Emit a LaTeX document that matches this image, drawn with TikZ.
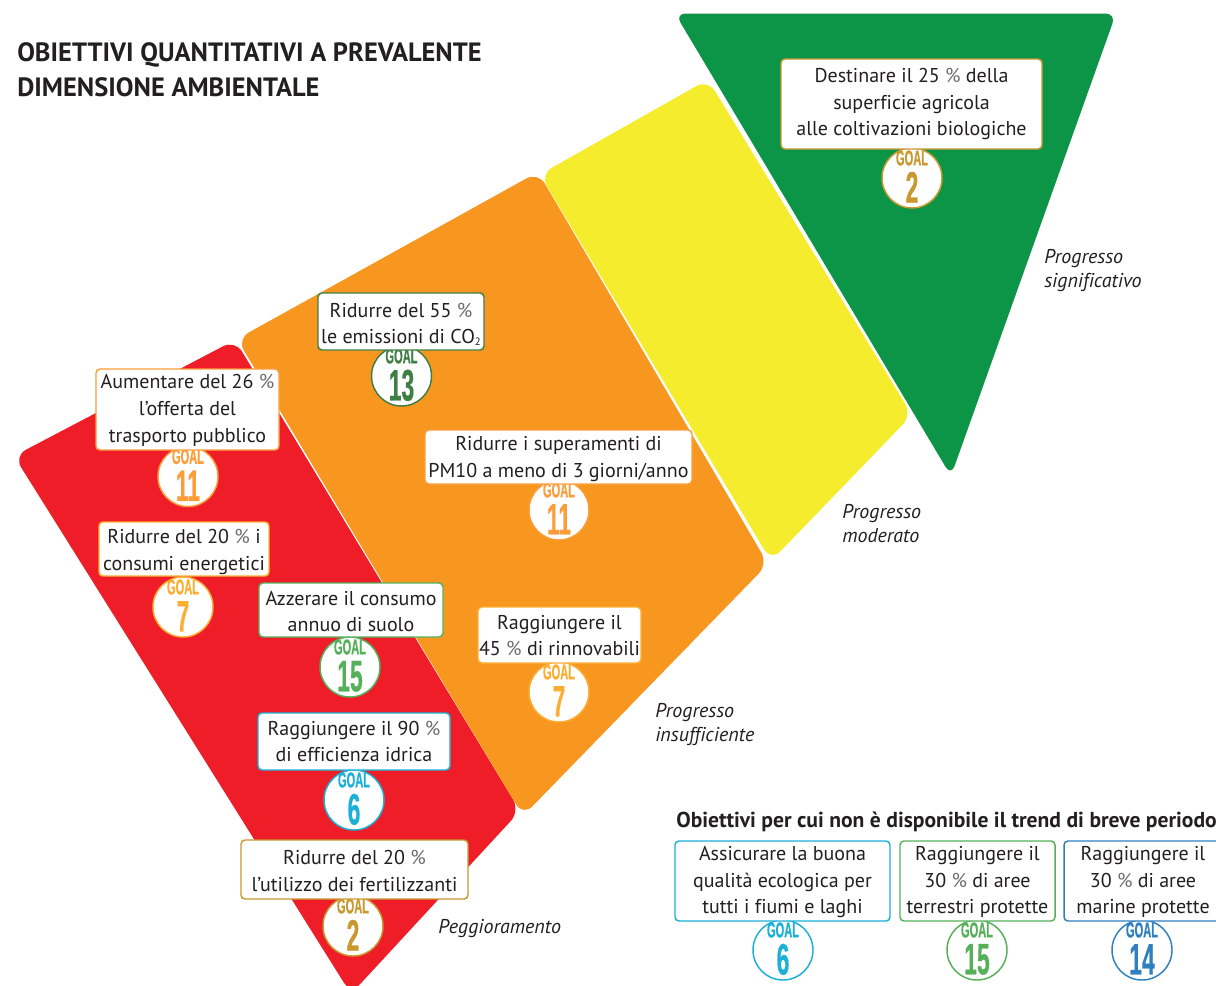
\documentclass[tikz,border=0pt]{standalone}
\usepackage{fontspec}
\setmainfont[Ligatures=NoCommon]{PT Sans}
\newfontfamily\goalfont[BoldFont={Liberation Sans Bold},BoldFeatures={FakeBold=0.8}]{Liberation Sans}
\definecolor{cGreen}{HTML}{0C9547}
\definecolor{cYellow}{HTML}{F6EC2E}
\definecolor{cOrange}{HTML}{F7971F}
\definecolor{cRed}{HTML}{EE1D27}
\definecolor{cInk}{HTML}{231F20}
\definecolor{gGold}{HTML}{C9982F}
\definecolor{gDark}{HTML}{3F7E44}
\definecolor{gOrange}{HTML}{FD9D3A}
\definecolor{gAmber}{HTML}{FCAE33}
\definecolor{gLime}{HTML}{56B05A}
\definecolor{gCyan}{HTML}{1BB0D8}
\definecolor{gBlue}{HTML}{2F80BF}
\newcommand{\pc}{{\color{cInk!65}\%}}
\tikzset{
  band/.style={fill=#1,rounded corners=10pt,draw=none},
  goalbox/.style={draw=#1,fill=white,line width=1.1pt,rounded corners=3pt,inner sep=0pt,anchor=center},
  boxtext/.style={inner sep=0pt,align=center,text=cInk,font=\fontsize{15}{20}\selectfont},
  goaldisc/.style={circle,draw=#1,fill=white,line width=1.1pt,minimum size=45pt,inner sep=0pt},
  goalword/.style={text=#1,inner sep=0pt,font=\goalfont\bfseries\fontsize{16}{17}\selectfont},
  goalnum/.style={text=#1,inner sep=0pt,font=\goalfont\bfseries\fontsize{33}{33}\selectfont},
  note/.style={text=cInk,align=left,anchor=west,inner sep=0pt,font=\itshape\fontsize{15}{18}\selectfont},
}
% \goal{name}{x}{y}{colour}{number}
\newcommand{\goal}[5]{%
  \node[goaldisc=#4] (#1) at (#2,#3) {};
  \node[goalword=#4] (#1w) at ([yshift=15pt]#1.center) {\scalebox{.52}[1]{GOAL}};
  \node[goalnum=#4] (#1n) at ([yshift=-7pt]#1.center) {\scalebox{.52}[1]{#5}};
}
% \gbox[text shift, pt]{name}{x1}{y1}{x2}{y2}{colour}{text}
\newcommand{\gbox}[8][.75]{%
  \pgfmathsetmacro{\gw}{(#5-#3)*.75}\pgfmathsetmacro{\gh}{(#6-#4)*.75}
  \node[goalbox=#7,minimum width=\gw pt,minimum height=\gh pt] (#2) at ({(#3+#5)/2},{(#4+#6)/2}) {};
  \node[boxtext] (#2t) at ([yshift=-#1 pt]#2.center) {#8};
}
\begin{document}
\begin{tikzpicture}[x=.75pt,y=-.75pt]
\useasboundingbox (0,0) rectangle (1216,985);
\fill[white] (0,0) rectangle (1216,985);
\begin{scope}
\clip (0,0) rectangle (1216,985);
\path[band=cRed] (235,340) -- (14,456) -- (351,994) -- (520,811) -- cycle;
\path[band=cOrange] (538,172) -- (237,339) -- (523,816) -- (768,564) -- cycle;
\path[band=cYellow] (708,79.5) -- (540,174.5) -- (771,561) -- (912,415) -- cycle;
\path[band=cGreen,rounded corners=8pt] (675,13.5) -- (1116,13.5) -- (951,476) -- cycle;
\end{scope}
% goal badges and boxes
\goal{gA}{912}{178}{gGold}{2}
\gbox[0]{bA}{781}{59}{1042}{149}{gGold}{Destinare il 25 \pc{} della\\superficie agricola\\alle coltivazioni biologiche}
\goal{gB}{401.5}{376}{gDark}{13}
\gbox[2.25]{bB}{318}{293}{484}{350}{gDark}{Ridurre del 55 \pc\\le emissioni di CO\raisebox{-.2ex}{\fontsize{8}{8}\selectfont 2}}
\goal{gC}{188}{476.5}{gOrange}{11}
\gbox{bC}{96}{369}{279}{450}{gOrange}{Aumentare del 26 \pc\\l’offerta del\\trasporto pubblico}
\goal{gD}{183}{607}{gAmber}{7}
\gbox[2]{bD}{99}{522}{269}{576}{gAmber}{Ridurre del 20 \pc{} i\\consumi energetici}
\goal{gE}{350}{667}{gLime}{15}
\gbox[1]{bE}{259}{583}{443}{637}{gLime}{Azzerare il consumo\\annuo di suolo}
\goal{gF}{559}{510}{gOrange}{11}
\gbox[1.5]{bF}{425}{430}{692}{484}{gOrange}{Ridurre i superamenti di\\PM10 a meno di 3 giorni/anno}
\goal{gG}{559}{692}{gAmber}{7}
\gbox[.5]{bG}{478}{607}{641}{663}{gAmber}{Raggiungere il\\45 \pc{} di rinnovabili}
\goal{gH}{354}{800}{gCyan}{6}
\gbox[0]{bH}{258}{713}{450}{770}{gCyan}{Raggiungere il 90 \pc\\di efficienza idrica}
\goal{gI}{353}{926}{gGold}{2}
\gbox[1]{bI}{241}{840}{468}{899}{gGold}{Ridurre del 20 \pc\\l’utilizzo dei fertilizzanti}
\goal{gJ}{783}{950}{gCyan}{6}
\gbox{bJ}{675}{841}{890}{921}{gCyan}{Assicurare la buona\\qualità ecologica per\\tutti i fiumi e laghi}
\goal{gK}{977}{950}{gLime}{15}
\gbox{bK}{900}{841}{1055}{921}{gLime}{Raggiungere il\\30 \pc{} di aree\\terrestri protette}
\goal{gL}{1142}{950}{gBlue}{14}
\gbox{bL}{1064}{841}{1222}{921}{gBlue}{Raggiungere il\\30 \pc{} di aree\\marine protette}
% headings
\node[anchor=west,inner sep=0pt,align=left,text=cInk,font=\bfseries\fontsize{19.85}{26}\selectfont] (title) at (17,70)
  {OBIETTIVI QUANTITATIVI A PREVALENTE\\DIMENSIONE AMBIENTALE};
\node[anchor=west,inner sep=0pt,text=cInk,font=\bfseries\fontsize{16.2}{20}\selectfont] (sub) at (676,822)
  {Obiettivi per cui non è disponibile il trend di breve periodo};
% legend notes
\node[note] (n1) at (1044,271) {Progresso\\significativo};
\node[note] (n2) at (842,524) {Progresso\\moderato};
\node[note] (n3) at (655,724) {Progresso\\insufficiente};
\node[note] (n4) at (438,929) {Peggioramento};
\end{tikzpicture}
\end{document}
